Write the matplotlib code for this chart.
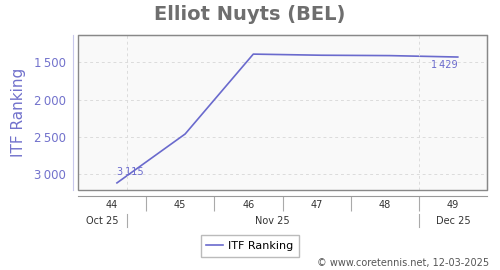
import datetime as dt
import matplotlib.pyplot as plt
import matplotlib.dates as mdates
from matplotlib.ticker import FuncFormatter, FixedLocator, NullFormatter

# ranking data (weekly)
dates = ['2025-10-31', '2025-11-07', '2025-11-14', '2025-11-21', '2025-11-28', '2025-12-05']
ranks = [3115, 2460, 1390, 1405, 1410, 1429]

weeks = ['44', '45', '46', '47', '48', '49']
week_starts = ['2025-10-27', '2025-11-03', '2025-11-10', '2025-11-17', '2025-11-24', '2025-12-01']
x_end = '2025-12-08'
months = ['Oct 25', 'Nov 25', 'Dec 25']
month_starts = ['2025-11-01', '2025-12-01']

line_col = '#6a6acd'
tick_col = '#7272cc'


def d(s):
    return mdates.date2num(dt.datetime.strptime(s, '%Y-%m-%d'))


def fmt(v, pos=None):
    return f'{int(v):,}'.replace(',', '\u2009')


x = [d(s) for s in dates]
ws = [d(s) for s in week_starts]
xe = d(x_end)

fig = plt.figure(figsize=(5, 2.7), dpi=100)
ax = fig.add_axes([78 / 500, 1 - 190 / 270, 409 / 500, 155 / 270])
ax.set_facecolor('#f9f9f9')

ax.plot(x, ranks, color=line_col, lw=1.2, label='ITF Ranking')
ax.annotate(fmt(ranks[0]), (x[0], ranks[0]), xytext=(0, 4), textcoords='offset points',
            ha='left', va='bottom', color=line_col, fontsize=7)
ax.annotate(fmt(ranks[-1]), (x[-1], ranks[-1]), xytext=(0, -2), textcoords='offset points',
            ha='right', va='top', color=line_col, fontsize=7)

ax.set_xlim(ws[0], xe)
ax.set_ylim(3210, 1134)

# y axis
ax.yaxis.set_major_locator(FixedLocator([1500, 2000, 2500, 3000]))
ax.yaxis.set_major_formatter(FuncFormatter(fmt))
ax.tick_params(axis='y', length=0, pad=5, labelcolor=tick_col, labelsize=8.5)
ax.set_ylabel('ITF Ranking', color=tick_col, fontsize=11, labelpad=6)

# grid
ax.grid(True, axis='y', color='#dcdcdc', ls=(0, (3, 3)), lw=0.7)
for m in month_starts:
    ax.axvline(d(m), color='#dcdcdc', ls=(0, (3, 3)), lw=0.7)

# spines
for s in ['top', 'right']:
    ax.spines[s].set_color('#888888')
ax.spines['left'].set_position(('outward', 3.6))
ax.spines['left'].set_color('#c8c8ec')
ax.spines['bottom'].set_position(('outward', 4.3))
ax.spines['bottom'].set_color('#999999')
ax.add_patch(plt.Rectangle((0, 0), 1, 1, transform=ax.transAxes, fill=False,
                           edgecolor='#888888', lw=1, clip_on=False, zorder=3))

# week axis
ax.xaxis.set_major_locator(FixedLocator(ws[1:]))
ax.xaxis.set_major_formatter(NullFormatter())
ax.xaxis.set_minor_locator(FixedLocator([w + 3.5 for w in ws]))
ax.xaxis.set_minor_formatter(FuncFormatter(lambda v, p: weeks[p] if p is not None and p < len(weeks) else ''))
ax.tick_params(axis='x', which='major', length=11, color='#aaaaaa')
ax.tick_params(axis='x', which='minor', length=0, pad=3, labelsize=7, labelcolor='#333333')

# month row
tr = ax.get_xaxis_transform()
ms = [d(m) for m in month_starts]
edges = [ws[0]] + ms + [xe]
for i, lab in enumerate(months):
    ax.text((edges[i] + edges[i + 1]) / 2, -0.2, lab, transform=tr, ha='center', va='center',
            fontsize=7, color='#333333')
for m in ms:
    ax.plot([m, m], [-0.155, -0.24], transform=tr, color='#aaaaaa', lw=0.8, clip_on=False)

fig.text(0.5, 1 - 15 / 270, 'Elliot Nuyts (BEL)', ha='center', va='center',
         fontsize=14, fontweight='bold', color='#6e6e6e')

fig.legend(loc='center', bbox_to_anchor=(250 / 500, 1 - 246 / 270), fontsize=8,
           fancybox=False, edgecolor='#aaaaaa', handlelength=1.5, borderpad=0.5,
           handletextpad=0.5)

fig.text(489 / 500, 1 - 263 / 270, '\u00a9 www.coretennis.net, 12-03-2025', ha='right',
         va='center', fontsize=7, color='#555555')

fig.savefig('out.png', dpi=100)
